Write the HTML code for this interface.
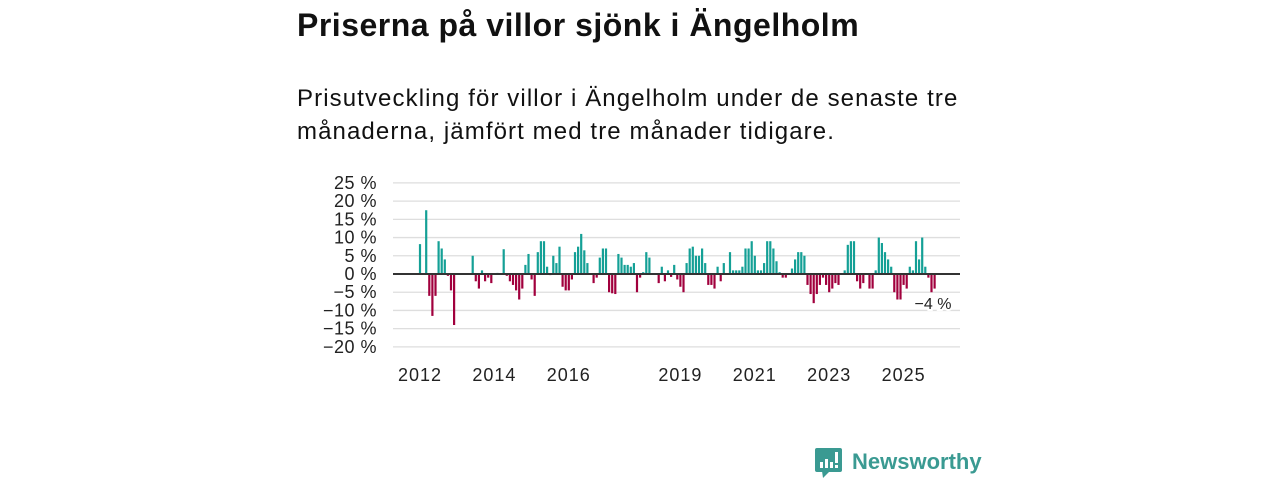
<!DOCTYPE html>
<html><head><meta charset="utf-8">
<style>
body{margin:0;width:1280px;height:480px;background:#fff;font-family:"Liberation Sans",sans-serif;overflow:hidden;position:relative}
h1{position:absolute;left:297px;top:7px;margin:0;font-size:32px;letter-spacing:0.5px;font-weight:bold;color:#111}
p.sub{position:absolute;left:297px;top:82px;margin:0;font-size:24px;letter-spacing:1.1px;line-height:33px;color:#111;width:760px}
svg{position:absolute;left:0;top:0}
</style></head><body>
<h1>Priserna på villor sjönk i Ängelholm</h1>
<p class="sub">Prisutveckling för villor i Ängelholm under de senaste tre<br>månaderna, jämfört med tre månader tidigare.</p>
<svg id="chart" width="1280" height="480"></svg>
<script>
const values = [8.2,0,17.5,-6,-11.5,-6,9,7,4,-0.5,-4.5,-14,0,0,0,0,0,5,-2,-4,1,-2,-1,-2.5,0,0.3,0,6.8,-0.5,-2,-3,-4.5,-7,-4,2.5,5.5,-1.5,-6,6,9,9,2,-0.3,5,3,7.5,-3.5,-4.5,-4.5,-1.5,6,7.5,11,6.5,3,0,-2.5,-1,4.5,7,7,-5,-5.3,-5.5,5.5,4.5,2.5,2.5,2,3,-5,-1,0.5,6,4.5,0,0.2,-2.5,2,-2,1,-0.8,2.5,-1.5,-3.5,-5,3,7,7.5,5,5,7,3,-3,-3,-4,2,-2,3,0,6,1,1,1,2,7,7,9,5,1,1,3,9,9,7,3.5,0.5,-1,-1,0,1.5,4,6,6,5,-3,-5.5,-8,-5.5,-3,-1,-3,-5,-4,-2.5,-3,0,1,8,9,9,-2,-4,-2.5,0,-4,-4,1,10,8.5,6,4,2,-5,-7,-7,-3,-4,2,1,9,4,10,2,-1,-5,-4];
const yTicks = [25,20,15,10,5,0,-5,-10,-15,-20];
const xTickYears = [2012,2014,2016,2019,2021,2023,2025];
const startYear = 2012;
const lastLabel = "−4 %";

const NS="http://www.w3.org/2000/svg";
const svg=document.getElementById('chart');
const x0=420, pxPerMonth=3.1, xL=393, xR=960;
const xs=m=>x0+m*pxPerMonth;
const ys=v=>274-v*3.644;
function mk(t,a){const e=document.createElementNS(NS,t);for(const k in a)e.setAttribute(k,a[k]);svg.appendChild(e);return e;}
yTicks.forEach(t=>{
  const g=mk('line',{x1:xL,x2:xR,y1:ys(t),y2:ys(t),stroke:'#dedede','stroke-width':1.3});
  
  
  const l=mk('text',{x:377,y:ys(t)+6,'text-anchor':'end','font-size':18,'letter-spacing':0.5,fill:'#222','font-family':'Liberation Sans, sans-serif'});
  l.textContent=(t<0?'−'+(-t):t)+' %';
  
  
});
values.forEach((v,i)=>{
  if(v===0)return;
  const y=Math.min(ys(v),ys(0));
  const r=mk('rect',{x:xs(i)-1.1,y:y,width:2.2,height:Math.abs(ys(v)-ys(0)),fill:v>0?'#14a096':'#a1003d'});
  
  
});
const z=mk('line',{x1:xL,x2:xR,y1:ys(0),y2:ys(0),stroke:'#333','stroke-width':2});


xTickYears.forEach(yr=>{
  const m=(yr-startYear)*12;
  const l=mk('text',{x:xs(m),y:381,'text-anchor':'middle','font-size':18,'letter-spacing':1,fill:'#222','font-family':'Liberation Sans, sans-serif'});
  l.textContent=yr;
  
  
});
const lab=mk('text',{x:933,y:309,'text-anchor':'middle','font-size':16,fill:'#222','font-family':'Liberation Sans, sans-serif',stroke:'#fff','stroke-width':4,'paint-order':'stroke'});
lab.textContent=lastLabel;


</script>
<svg width="1280" height="480">
  <rect x="815" y="448" width="27" height="24" rx="2" fill="#3a9a92"/>
  <polygon points="822,471 830,471 823,478" fill="#3a9a92"/>
  <rect x="820" y="462" width="3" height="6" fill="#fff"/>
  <rect x="825" y="459" width="3" height="9" fill="#fff"/>
  <rect x="830" y="462" width="3" height="6" fill="#fff"/>
  <rect x="835" y="452" width="3" height="11" fill="#fff"/>
  <rect x="835" y="465" width="3" height="3" fill="#fff"/>
  <text x="852" y="469" font-size="22" font-weight="bold" fill="#3a9a92" font-family="Liberation Sans, sans-serif">Newsworthy</text>
</svg>
</body></html>
